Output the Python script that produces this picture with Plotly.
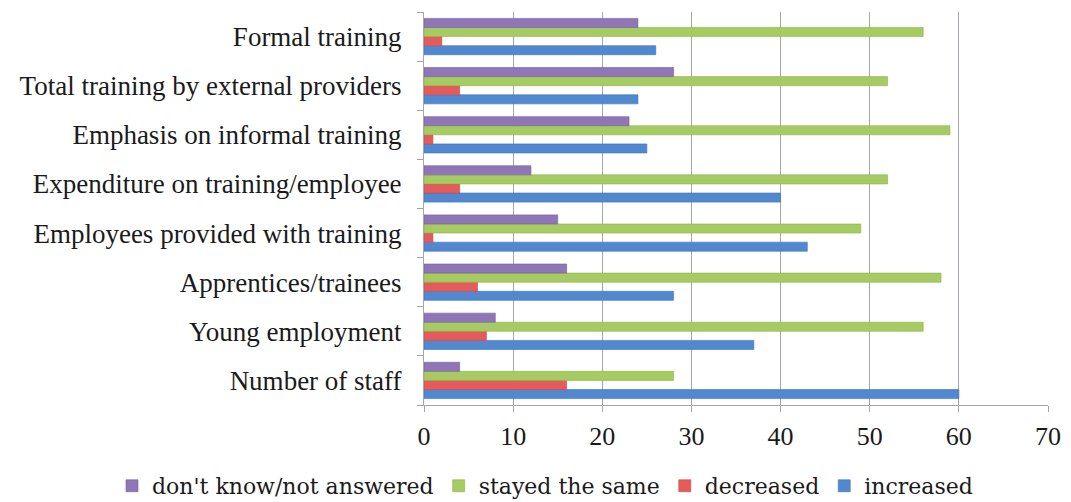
"""Survey chart: change in training measures, grouped horizontal bars."""

import plotly.graph_objects as go

categories = [
    "Number of staff",
    "Young employment",
    "Apprentices/trainees",
    "Employees provided with training",
    "Expenditure on training/employee",
    "Emphasis on informal training",
    "Total training by external providers",
    "Formal training",
]

increased = [60, 37, 28, 43, 40, 25, 24, 26]
decreased = [16, 7, 6, 1, 4, 1, 4, 2]
stayed_same = [28, 56, 58, 49, 52, 59, 52, 56]
dont_know = [4, 8, 16, 15, 12, 23, 28, 24]

x_ticks = [0, 10, 20, 30, 40, 50, 60, 70]

# bottom-to-top inside each group
series = [
    ("increased", increased, "#5188cf", "#3f72b3"),
    ("decreased", decreased, "#e55b5b", "#c94444"),
    ("stayed the same", stayed_same, "#a6cb62", "#8cb04c"),
    ("don't know/not answered", dont_know, "#8f76b6", "#76609c"),
]

fig = go.Figure()
for name, vals, color, edge in series:
    fig.add_trace(go.Bar(
        x=vals,
        y=categories,
        name=name,
        orientation="h",
        marker=dict(color=color, line=dict(width=0.6, color=edge)),
    ))

serif = "Liberation Serif"

fig.update_layout(
    template="none",
    barmode="group",
    bargap=0.26,
    bargroupgap=0.0,
    width=1071,
    height=502,
    margin=dict(l=424, r=23, t=12, b=97, autoexpand=False),
    plot_bgcolor="white",
    paper_bgcolor="white",
    font=dict(family=serif, size=26, color="#1a1a1a"),
    xaxis=dict(
        range=[0, 70],
        tickvals=x_ticks,
        showgrid=True,
        gridcolor="#a3a6ab",
        gridwidth=1,
        zeroline=False,
        showline=True,
        linecolor="#a3a6ab",
        ticks="outside",
        ticklen=6,
        tickcolor="#a3a6ab",
        ticklabelstandoff=2,
        tickfont=dict(family=serif, size=26),
        fixedrange=True,
    ),
    yaxis=dict(
        showline=True,
        linecolor="#a3a6ab",
        ticks="outside",
        tickson="boundaries",
        ticklen=6,
        tickcolor="#a3a6ab",
        ticklabelstandoff=16,
        tickfont=dict(family=serif, size=27),
        showgrid=False,
        fixedrange=True,
    ),
    # left of the plot area and below it, so the legend may use the full row
    legend=dict(
        orientation="h",
        traceorder="reversed",
        x=-0.5,
        xanchor="left",
        y=-0.206,
        yanchor="middle",
        font=dict(family="DejaVu Serif", size=22, color="#1a1a1a"),
        itemwidth=30,
    ),
)

# drop the default body margin so the figure sits at the window's corner
fig.write_html(
    "out.html",
    config={"displayModeBar": False},
    post_script="document.body.style.margin = '0';",
)
